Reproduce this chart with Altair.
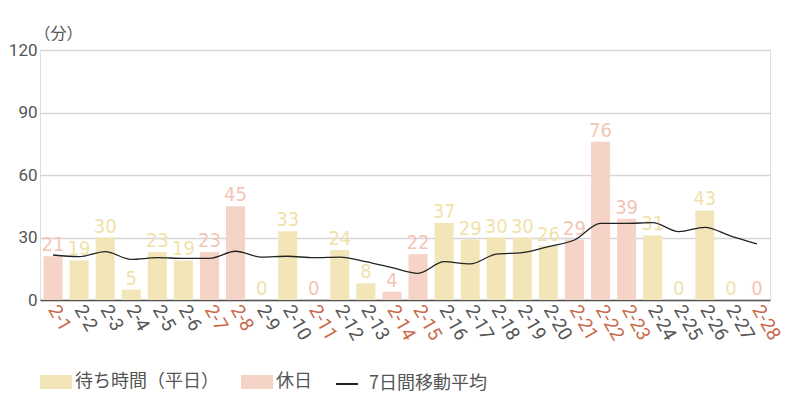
import altair as alt
import pandas as pd

dates = ["2-1", "2-2", "2-3", "2-4", "2-5", "2-6", "2-7", "2-8", "2-9", "2-10",
         "2-11", "2-12", "2-13", "2-14", "2-15", "2-16", "2-17", "2-18", "2-19", "2-20",
         "2-21", "2-22", "2-23", "2-24", "2-25", "2-26", "2-27", "2-28"]
wait = [21, 19, 30, 5, 23, 19, 23, 45, 0, 33,
        0, 24, 8, 4, 22, 37, 29, 30, 30, 26,
        29, 76, 39, 31, 0, 43, 0, 0]
holidays = ["2-1", "2-7", "2-8", "2-11", "2-14", "2-15", "2-21", "2-22", "2-23", "2-28"]
moving_avg = [21.6, 20.8, 23.2, 19.5, 20.3, 20.0, 20.0, 23.4, 20.6, 21.0,
              20.3, 20.6, 18.4, 15.5, 12.8, 18.4, 17.3, 22.0, 22.7, 25.6,
              28.8, 36.8, 36.8, 37.1, 32.8, 34.9, 30.7, 26.9]

WEEKDAY = "待ち時間（平日）"
HOLIDAY = "休日"
LINE = "7日間移動平均"

df = pd.DataFrame({
    "date": dates,
    "wait": wait,
    "avg": moving_avg,
    "type": [HOLIDAY if d in holidays else WEEKDAY for d in dates],
})

FONT = "Roboto, 'Noto Sans CJK JP', sans-serif"
CJK = "'Noto Sans CJK JP', Roboto, sans-serif"
NUMFONT = "'DejaVu Sans Condensed', Roboto, sans-serif"
hol_js = "[" + ",".join("'" + h + "'" for h in holidays) + "]"

x = alt.X(
    "date:N", sort=dates, title=None,
    scale=alt.Scale(paddingInner=0.27, paddingOuter=0.135),
    axis=alt.Axis(
        labelAngle=60, labelAlign="left", labelBaseline="middle",
        labelFont=FONT, labelFontSize=19, labelPadding=6,
        labelColor=alt.expr("indexof(" + hol_js + ", datum.value) >= 0 ? '#c8694b' : '#555555'"),
        ticks=False, domainColor="#555555", domainWidth=1.5, grid=False,
    ),
)

y = alt.Y(
    "wait:Q", title="（分）",
    scale=alt.Scale(domain=[0, 120]),
    axis=alt.Axis(
        values=[0, 30, 60, 90, 120], domain=False, ticks=False,
        labelFont=FONT, labelFontSize=17, labelColor="#555555", labelPadding=3,
        gridColor="#d6d6d6", gridWidth=1.5,
        titleAngle=0, titleX=-6, titleY=-9, titleAlign="left", titleBaseline="bottom",
        titleFont=CJK, titleFontSize=16, titleFontWeight="normal", titleColor="#555555",
    ),
)

bars = alt.Chart(df).mark_bar().encode(
    x=x,
    y=y,
    fill=alt.Fill(
        "type:N",
        scale=alt.Scale(domain=[WEEKDAY, HOLIDAY], range=["#f2e6b8", "#f5d3c7"]),
        legend=alt.Legend(
            title=None, orient="none", legendX=6, legendY=322, direction="horizontal",
            symbolType="M-1.6,-0.7L1.6,-0.7L1.6,0.7L-1.6,0.7Z", symbolSize=400,
            symbolStrokeWidth=0, labelOffset=9, columnPadding=22,
            labelFont=CJK, labelFontSize=18, labelColor="#555555",
        ),
    ),
)

labels = alt.Chart(df).mark_text(
    baseline="bottom", dy=-1, font=NUMFONT, fontSize=20,
).encode(
    x=alt.X("date:N", sort=dates),
    y=alt.Y("wait:Q"),
    text=alt.Text("wait:Q"),
    color=alt.condition(alt.datum.type == HOLIDAY, alt.value("#f2c5b5"), alt.value("#f0e2a9")),
)

line = alt.Chart(df).transform_calculate(series="'" + LINE + "'").mark_line(
    interpolate="monotone", strokeWidth=1.3,
).encode(
    x=alt.X("date:N", sort=dates),
    y=alt.Y("avg:Q"),
    stroke=alt.Stroke(
        "series:N",
        scale=alt.Scale(domain=[LINE], range=["#222222"]),
        legend=alt.Legend(
            title=None, orient="none", legendX=295, legendY=322,
            symbolType="stroke", symbolSize=484, symbolStrokeWidth=2,
            labelOffset=10, labelFont=CJK, labelFontSize=18, labelColor="#555555",
        ),
    ),
)

chart = alt.layer(bars, labels, line).properties(
    width=730, height=250,
    autosize=alt.AutoSizeParams(type="none"),
    padding={"left": 32, "top": 42, "right": 22, "bottom": 100},
).configure_view(stroke=None).configure(background="white")

chart.save("out.html", embed_options={"renderer": "svg", "actions": False})
